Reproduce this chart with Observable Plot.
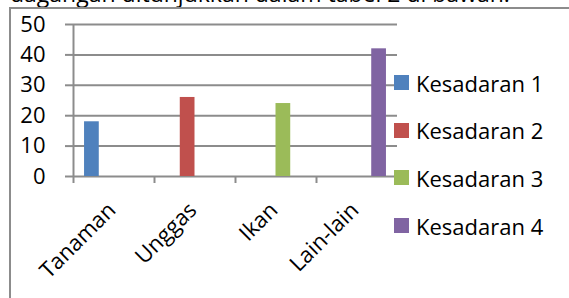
<!DOCTYPE html>
<html>
<head>
<meta charset="utf-8">
<script src="https://cdn.jsdelivr.net/npm/d3@7"></script>
<script src="https://cdn.jsdelivr.net/npm/@observablehq/plot@0.6"></script>
<style>
  html, body { margin: 0; padding: 0; background: #fff; }
  body { width: 569px; height: 298px; position: relative; overflow: hidden; font-family: "Open Sans", sans-serif; }
  #heading { position: absolute; left: 10px; top: -17px; font-size: 23px; line-height: 20px; white-space: nowrap; color: #000; }
  #border { position: absolute; left: 9px; top: 7px; width: 700px; height: 400px; border-left: 2px solid #8c8c8c; border-top: 2px solid #8c8c8c; }
  #chart { position: absolute; left: 0; top: 0; }
  .leg-item { position: absolute; left: 394px; height: 15px; display: flex; align-items: center; white-space: nowrap; font-size: 22px; }
  .leg-item .sw { width: 15px; height: 15px; margin-right: 7px; flex: none; }
</style>
</head>
<body>
<div id="heading">dagangan ditunjukkan dalam tabel 2 di bawah.</div>
<div id="border"></div>
<div id="chart"></div>
<div id="legend"></div>
<script>
const categories = ["Tanaman", "Unggas", "Ikan", "Lain-lain"];
const series = ["Kesadaran 1", "Kesadaran 2", "Kesadaran 3", "Kesadaran 4"];
const kesadaran1 = [18, 0, 0, 0];
const kesadaran2 = [0, 26, 0, 0];
const kesadaran3 = [0, 0, 24, 0];
const kesadaran4 = [0, 0, 0, 42];
const seriesColors = ["#4F81BD", "#C0504D", "#9BBB59", "#8064A2"];
const yTicks = [0, 10, 20, 30, 40, 50];

const seriesValues = [kesadaran1, kesadaran2, kesadaran3, kesadaran4];
const gapWidth = 1.5; // Excel-style gap between groups, in bar widths
const slots = series.length + gapWidth;
const data = series.flatMap((s, j) =>
  seriesValues[j].map((v, i) => ({category: categories[i], ci: i, series: s, sj: j, value: v}))
);

const grid = "#8c8c8c";
const plot = Plot.plot({
  width: 569,
  height: 298,
  marginLeft: 73,
  marginRight: 172,
  marginTop: 24,
  marginBottom: 122,
  style: {fontFamily: "Open Sans, sans-serif", fontSize: "22px", color: "#000", background: "transparent", overflow: "visible"},
  x: {type: "linear", domain: [0, categories.length], axis: null},
  y: {domain: [0, 50], axis: null},
  color: {domain: series, range: seriesColors},
  marks: [
    Plot.ruleY(yTicks, {stroke: grid, strokeWidth: 2}),
    Plot.axisY({ticks: yTicks, tickSize: 8, tickPadding: 20, stroke: grid, strokeWidth: 2, strokeOpacity: 1, fill: "#000", fontSize: 22, label: null}),
    Plot.axisX({ticks: d3.range(categories.length + 1), tickSize: 7, tickFormat: () => "", stroke: grid, strokeWidth: 2, strokeOpacity: 1, label: null}),
    Plot.ruleX([0], {stroke: grid, strokeWidth: 2}),
    Plot.rectY(data, {
      x1: d => d.ci + (gapWidth / 2 + d.sj) / slots,
      x2: d => d.ci + (gapWidth / 2 + d.sj + 1) / slots,
      y1: 0,
      y2: "value",
      fill: "series"
    }),
    Plot.text(categories, {
      x: (d, i) => i + 0.5,
      y: () => 0,
      text: d => d,
      rotate: -45,
      textAnchor: "end",
      lineAnchor: "middle",
      dx: -2,
      dy: 30,
      fontSize: 22,
      fill: "#000"
    })
  ]
});
document.getElementById("chart").appendChild(plot);

const legend = document.getElementById("legend");
series.forEach((s, j) => {
  const item = document.createElement("div");
  item.className = "leg-item";
  item.style.top = (75 + j * 47.7) + "px";
  const sw = document.createElement("div");
  sw.className = "sw";
  sw.style.background = seriesColors[j];
  const label = document.createElement("span");
  label.textContent = s;
  item.appendChild(sw);
  item.appendChild(label);
  legend.appendChild(item);
});
</script>
</body>
</html>
